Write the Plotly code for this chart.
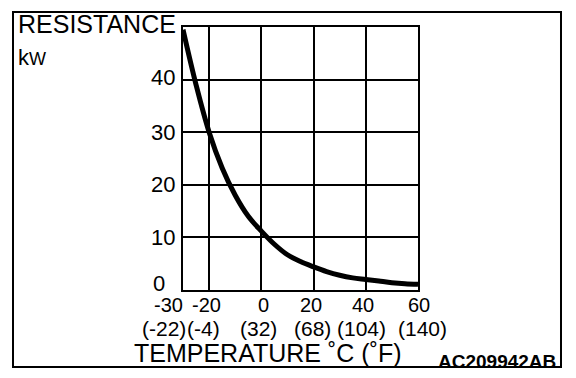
import plotly.graph_objects as go

# Data
temp_c = [-30, -25, -20, -15, -10, -5, 0, 5, 10, 15, 20, 25, 30, 35, 40, 45, 50, 55, 60]
resistance_kohm = [49.5, 39.0, 30.0, 23.2, 18.0, 14.0, 11.2, 8.7, 6.7, 5.4, 4.4, 3.5, 2.8, 2.3, 2.0, 1.7, 1.4, 1.2, 1.1]

x_ticks = [-30, -20, 0, 20, 40, 60]
x_tick_c = ["-30", "-20", "0", "20", "40", "60"]
x_tick_f = ["(-22)", "(-4)", "(32)", "(68)", "(104)", "(140)"]
x_label_shift_c = [-15, -3, 2, -3, -3, 1]
x_label_shift_f = [-19, -6, -3, -1, -4, 4]
y_ticks = [0, 10, 20, 30, 40]
y_tick_text = ["0", "10", "20", "30", "40"]
y_label_xshift = [-16, -6, -6, -6, -6]
y_label_yshift = [7, 0, 0, 0, 2]

FONT = "Liberation Sans, Arial, sans-serif"

fig = go.Figure()
fig.add_trace(go.Scatter(
    x=temp_c, y=resistance_kohm, mode="lines",
    line=dict(color="black", width=5, shape="spline", smoothing=1.0),
    hoverinfo="skip", showlegend=False, cliponaxis=True,
))

annotations = []
for v, t, s in zip(x_ticks, x_tick_c, x_label_shift_c):
    annotations.append(dict(x=v, y=0, xref="x", yref="y", text=t, showarrow=False,
                            xshift=s, yshift=-15, font=dict(family=FONT, size=20, color="black")))
for v, t, s in zip(x_ticks, x_tick_f, x_label_shift_f):
    annotations.append(dict(x=v, y=0, xref="x", yref="y", text=t, showarrow=False,
                            xshift=s, yshift=-38, font=dict(family=FONT, size=21, color="black")))
for v, t, sx, sy in zip(y_ticks, y_tick_text, y_label_xshift, y_label_yshift):
    annotations.append(dict(x=-30, y=v, xref="x", yref="y", text=t, showarrow=False,
                            xanchor="right", xshift=sx, yshift=sy,
                            font=dict(family=FONT, size=22, color="black")))

annotations += [
    dict(x=-0.712, y=1.072, xref="paper", yref="paper", xanchor="left", yanchor="top",
         text="RESISTANCE", showarrow=False, font=dict(family=FONT, size=25, color="black")),
    dict(x=-0.712, y=0.94, xref="paper", yref="paper", xanchor="left", yanchor="top",
         text="k<span style='font-size:18px'>W</span>", showarrow=False,
         font=dict(family=FONT, size=22, color="black")),
    dict(x=-0.215, y=-0.18, xref="paper", yref="paper", xanchor="left", yanchor="top",
         text="TEMPERATURE ˚C (˚F)", showarrow=False,
         font=dict(family=FONT, size=25, color="black")),
    dict(x=1.595, y=-0.225, xref="paper", yref="paper", xanchor="right", yanchor="top",
         text="<b>AC209942AB</b>", showarrow=False,
         font=dict(family=FONT, size=19, color="black")),
]

fig.update_layout(
    width=576, height=378,
    margin=dict(l=183, r=158, t=27, b=88),
    paper_bgcolor="white", plot_bgcolor="white",
    showlegend=False,
    annotations=annotations,
    shapes=[dict(type="rect", xref="paper", yref="paper",
                 x0=-0.7234, x1=1.6085, y0=-0.293, y1=1.057,
                 line=dict(color="black", width=2), layer="above")],
)
fig.update_xaxes(range=[-30, 60], tickvals=[-20, 0, 20, 40], showticklabels=False,
                 showgrid=True, gridcolor="black", gridwidth=2,
                 showline=True, linecolor="black", linewidth=2, mirror=True,
                 zeroline=False, ticks="", fixedrange=True)
fig.update_yaxes(range=[0, 50], tickvals=[10, 20, 30, 40], showticklabels=False,
                 showgrid=True, gridcolor="black", gridwidth=2,
                 showline=True, linecolor="black", linewidth=2, mirror=True,
                 zeroline=False, ticks="", fixedrange=True)

fig.write_html("out.html", config={"displayModeBar": False},
               post_script="document.body.style.margin='0';document.body.style.overflow='hidden';")
